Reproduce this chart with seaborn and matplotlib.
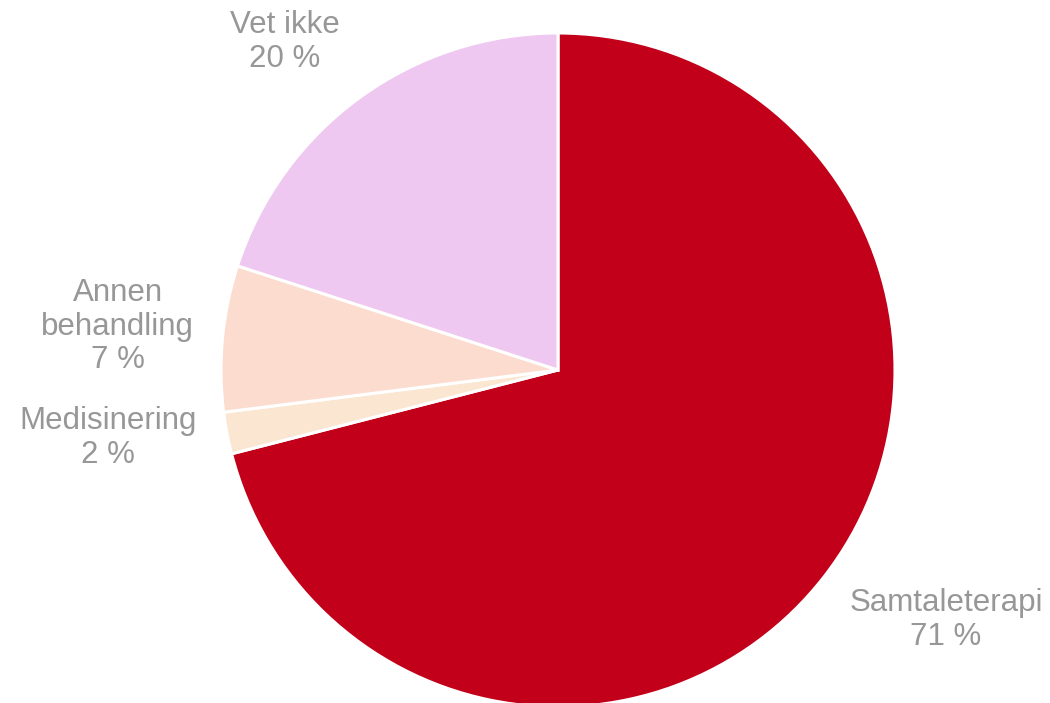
import matplotlib
matplotlib.use("Agg")
import matplotlib.pyplot as plt
import seaborn as sns

# data
categories = ["Samtaleterapi", "Medisinering", "Annen\nbehandling", "Vet ikke"]
shares = [71, 2, 7, 20]
colors = ["#C20019", "#FBE6D2", "#FBDCCF", "#EEC8F0"]

sns.set_theme(style="white")
plt.rcParams['font.family'] = ['Liberation Sans', 'DejaVu Sans']

fig = plt.figure(figsize=(10.5, 7.03), dpi=100)
ax = fig.add_axes([0, 0, 1, 1])

wedges, texts = ax.pie(shares, colors=colors, startangle=90, counterclock=False,
                       labels=[f"{c}\n{v} %" for c, v in zip(categories, shares)],
                       wedgeprops=dict(edgecolor="white", linewidth=2.2),
                       textprops=dict(color="#979797", fontsize=22.5, ha="center",
                                      va="center", linespacing=1.15))

# label positions (Excel best-fit style)
label_pos = [(1.151, -0.742), (-1.335, -0.202), (-1.306, 0.128), (-0.810, 0.973)]
for t, p in zip(texts, label_pos):
    t.set_position(p)
    t.set_horizontalalignment("center")
    t.set_verticalalignment("center")

ax.set_aspect("equal")
ax.set_xlim(-558 / 337, (1050 - 558) / 337)
ax.set_ylim(-(703 - 370) / 337, 370 / 337)
ax.axis("off")

fig.savefig("out.png", dpi=100)
